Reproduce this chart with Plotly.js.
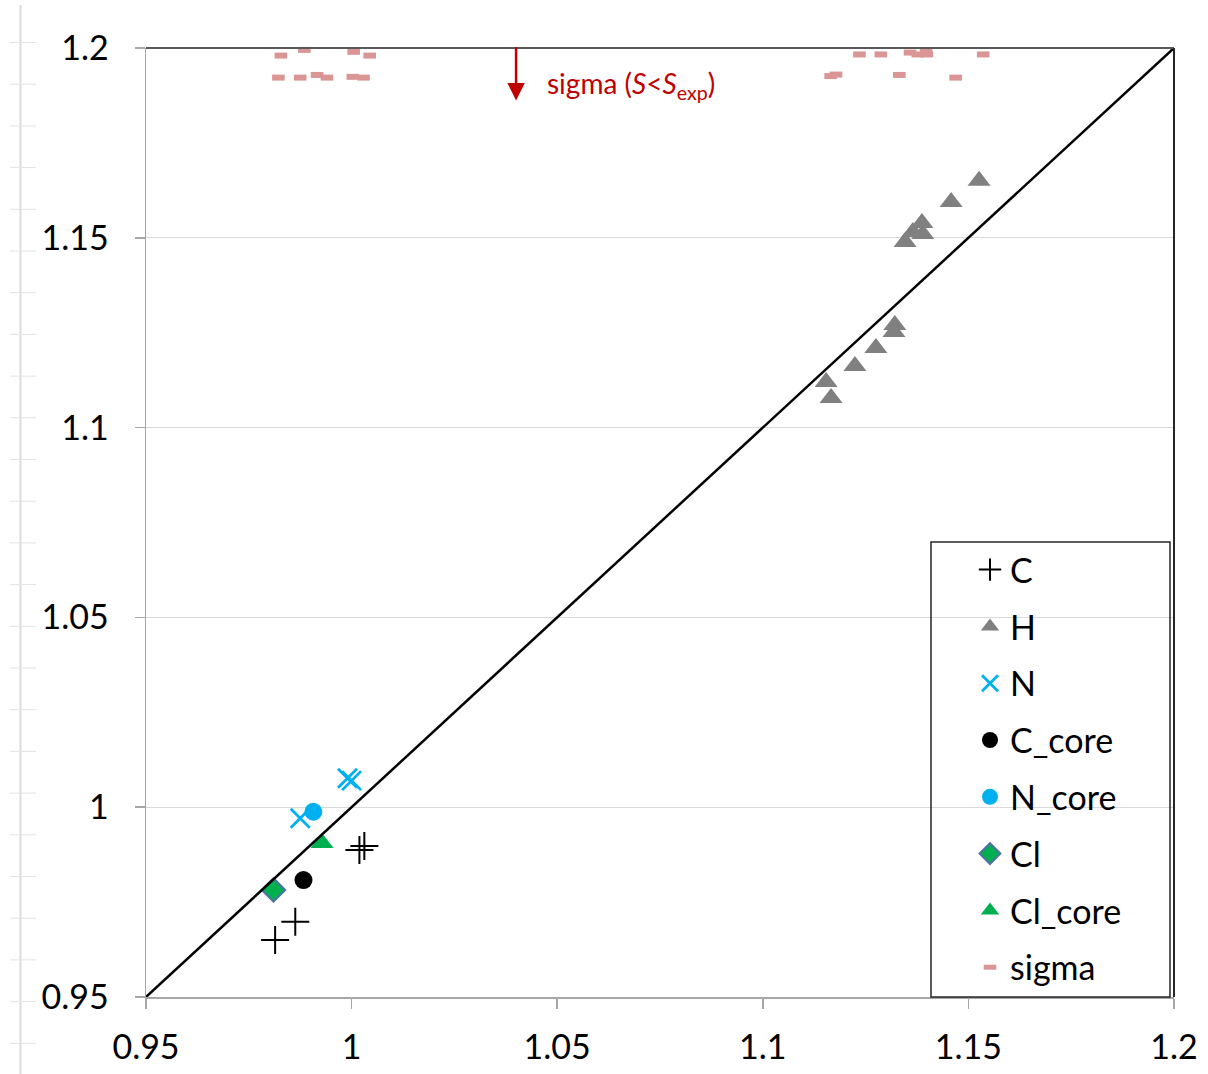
<!DOCTYPE html>
<html>
<head>
<meta charset="utf-8">
<script src="https://cdn.plot.ly/plotly-3.0.1.min.js"></script>
<style>
  html, body { margin: 0; padding: 0; background: #ffffff; }
  #chart { width: 1208px; height: 1074px; }
</style>
</head>
<body>
<div id="chart"></div>
<script>
// Axis ticks
const tickVals = [0.95, 1, 1.05, 1.1, 1.15, 1.2];
const tickText = ['0.95', '1', '1.05', '1.1', '1.15', '1.2'];

// Series: calculated vs. experimental values per atom type
const cX = [0.9814, 0.9863, 1.0019, 1.0031];
const cY = [0.9650, 0.9698, 0.9887, 0.9898];

const hX = [1.1526, 1.1458, 1.1387, 1.1365, 1.1389, 1.1346, 1.1321, 1.1319, 1.1275, 1.1224, 1.1154, 1.1166];
const hY = [1.1650, 1.1594, 1.1539, 1.1515, 1.1510, 1.1489, 1.1270, 1.1252, 1.1210, 1.1162, 1.1120, 1.1078];

const nX = [0.9875, 0.9990, 1.0000];
const nY = [0.9971, 1.0076, 1.0070];

const cCoreX = [0.9883];
const cCoreY = [0.9808];

const nCoreX = [0.9907];
const nCoreY = [0.9988];

const clX = [0.9810];
const clY = [0.9782];

const clCoreX = [0.9928];
const clCoreY = [0.9906];

const sigmaX = [0.9828, 0.9885, 1.0005, 1.0044, 0.9822, 0.9875, 0.9916, 0.9940, 1.0003, 1.0029,
                1.1235, 1.1287, 1.1358, 1.1377, 1.1399, 1.1397, 1.1536, 1.1165, 1.1178, 1.1332, 1.1469];
const sigmaY = [1.1980, 1.1995, 1.1990, 1.1980, 1.1922, 1.1922, 1.1929, 1.1922, 1.1924, 1.1922,
                1.1983, 1.1983, 1.1988, 1.1983, 1.1983, 1.1990, 1.1983, 1.1926, 1.1930, 1.1929, 1.1922];

// Reference diagonal y = x
const diagX = [0.95, 1.2];
const diagY = [0.95, 1.2];

const FONT = 'Lato, "Open Sans", sans-serif';

function pts(name, x, y, marker, group) {
  return {
    type: 'scatter', mode: 'markers', name: name, x: x, y: y,
    marker: marker, legendgroup: group, cliponaxis: false, hoverinfo: 'x+y+name'
  };
}

const traces = [
  pts('C', cX, cY, { symbol: 'cross-thin-open', size: 20, color: '#000000', line: { color: '#000000', width: 2 } }, 'g1'),
  pts('H', hX, hY, { symbol: 'triangle-up', size: 20, color: '#808080' }, 'g2'),
  pts('N', nX, nY, { symbol: 'x-thin-open', size: 19, color: '#00b0f0', line: { color: '#00b0f0', width: 2.8 } }, 'g3'),
  pts('C_core', cCoreX, cCoreY, { symbol: 'circle', size: 18, color: '#000000' }, 'g4'),
  pts('N_core', nCoreX, nCoreY, { symbol: 'circle', size: 18, color: '#00b0f0' }, 'g5'),
  pts('Cl', clX, clY, { symbol: 'diamond', size: 18, color: '#00b050', line: { color: '#4f6fa5', width: 2 } }, 'g6'),
  pts('Cl_core', clCoreX, clCoreY, { symbol: 'triangle-up', size: 20, color: '#00b050' }, 'g7'),
  pts('sigma', sigmaX, sigmaY, { symbol: 'line-ew', size: 9, color: '#d99694', line: { color: '#d99694', width: 6 } }, 'g8'),
  {
    type: 'scatter', mode: 'lines', x: diagX, y: diagY, showlegend: false,
    line: { color: '#000000', width: 2.5 }, hoverinfo: 'skip'
  }
];

// Pixel -> paper helpers for frame decorations (plot area 146..1174 x 48..997)
const L = 146, R = 1174, T = 48, B = 997;
const px = v => (v - L) / (R - L);
const py = v => (B - v) / (B - T);

const shapes = [
  // plot frame: top and right edges
  { type: 'line', xref: 'paper', yref: 'paper', x0: 0, x1: 1, y0: 1, y1: 1, line: { color: '#595959', width: 2 } },
  { type: 'line', xref: 'paper', yref: 'paper', x0: 1, x1: 1, y0: 0, y1: 1, line: { color: '#262626', width: 2 } },
  // legend frame
  { type: 'rect', xref: 'paper', yref: 'paper', x0: px(931), x1: px(1170), y0: py(997), y1: py(542),
    line: { color: '#262626', width: 1.5 }, fillcolor: 'rgba(255,255,255,0)' },
  // faint page ruler at the left edge
  { type: 'line', xref: 'paper', yref: 'paper', x0: px(20.5), x1: px(20.5), y0: py(5), y1: py(1074),
    line: { color: '#dcdcdc', width: 2 }, layer: 'below' }
];
for (let k = 0; k < 25; k++) {
  const yy = 42.5 + k * 41.7;
  shapes.push({ type: 'line', xref: 'paper', yref: 'paper', x0: px(10), x1: px(36), y0: py(yy), y1: py(yy),
    line: { color: '#e3e3e3', width: 1 }, layer: 'below' });
}

const layout = {
  width: 1208, height: 1074,
  margin: { l: L, r: 1208 - R, t: T, b: 1074 - B, pad: 0 },
  paper_bgcolor: '#ffffff', plot_bgcolor: '#ffffff',
  font: { family: FONT, size: 34, color: '#000000' },
  showlegend: true,
  xaxis: {
    range: [0.95, 1.2], tickmode: 'array', tickvals: tickVals, ticktext: tickText,
    showgrid: false, zeroline: false, showline: true, linecolor: '#a6a6a6', linewidth: 1.5,
    ticks: 'outside', ticklen: 10, tickcolor: '#a6a6a6', tickwidth: 1.5,
    ticklabelstandoff: 10,
    tickfont: { family: FONT, size: 34, color: '#000000' }
  },
  yaxis: {
    range: [0.95, 1.2], tickmode: 'array', tickvals: tickVals, ticktext: tickText,
    showgrid: true, gridcolor: '#d9d9d9', gridwidth: 1, zeroline: false,
    showline: true, linecolor: '#a6a6a6', linewidth: 1.5,
    ticks: 'outside', ticklen: 10, tickcolor: '#a6a6a6', tickwidth: 1.5,
    ticklabelstandoff: 19,
    tickfont: { family: FONT, size: 34, color: '#000000' }
  },
  legend: {
    x: px(970), y: py(541), xanchor: 'left', yanchor: 'top',
    bgcolor: 'rgba(0,0,0,0)', borderwidth: 0,
    font: { family: FONT, size: 34, color: '#000000' },
    traceorder: 'grouped', tracegroupgap: 9.6
  },
  shapes: shapes,
  annotations: [
    {
      x: 1.04, y: 1.1862, xref: 'x', yref: 'y',
      ax: 1.04, ay: 1.2006, axref: 'x', ayref: 'y',
      text: '', showarrow: true, arrowhead: 2, arrowsize: 1.4, arrowwidth: 2.5, arrowcolor: '#c00000'
    },
    {
      x: 1.0471, y: 1.1903, xref: 'x', yref: 'y', xanchor: 'left', yanchor: 'middle',
      showarrow: false,
      text: 'sigma (<i>S</i>&lt;<i>S</i><sub>exp</sub>)',
      font: { family: FONT, size: 28, color: '#c00000' }
    }
  ]
};

Plotly.newPlot('chart', traces, layout, { displayModeBar: false, staticPlot: true });
</script>
</body>
</html>
